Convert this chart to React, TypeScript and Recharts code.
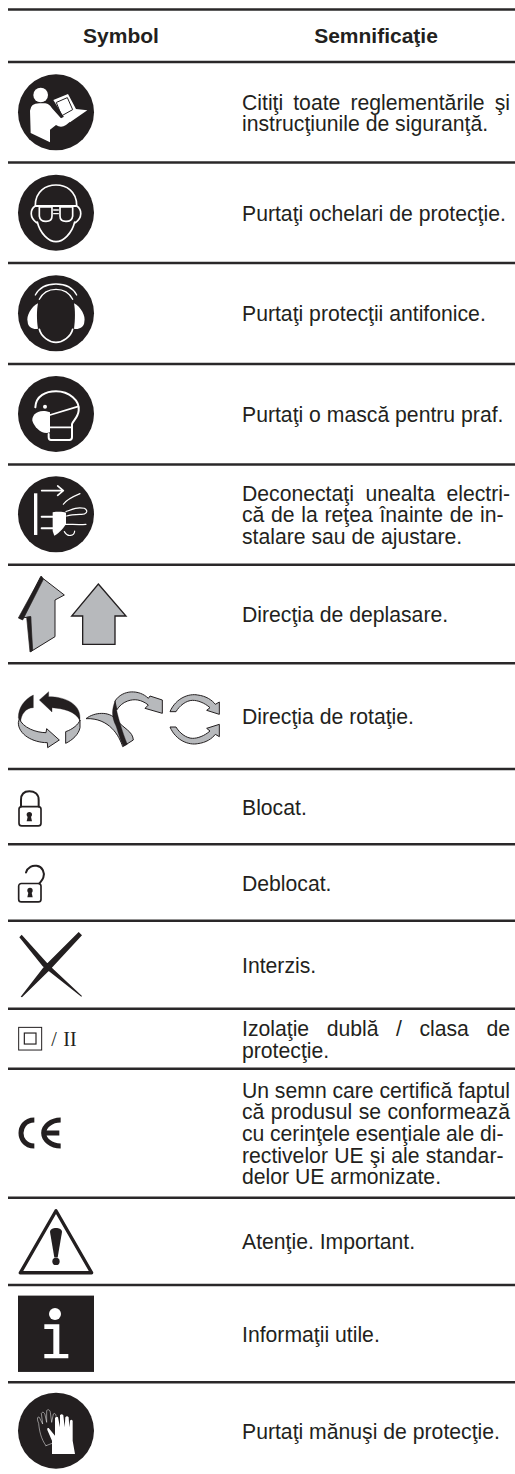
import React from "react";
import { ScatterChart, Scatter, XAxis, YAxis, ReferenceLine } from "recharts";

const WIDTH = 515;
const HEIGHT = 1474;
const INK = "#231f20";
const GREY = "#b7b9bc";
const FONT = '"Liberation Sans", Arial, sans-serif';
const FONT_SIZE = 21.2;
const LINE_HEIGHT = 21.6;

const headerLabels = ["Symbol", "Semnificaţie"];
const headerColumns = [121, 376];
const headerBaseline = 42.7;

const ruleValues = [9.5, 62, 162.5, 263, 364, 464.5, 564.7, 663.3, 769, 844.3, 920.7, 1008.7, 1068.7, 1197.7, 1285, 1382.3];
const rowCentres = [112.3, 212.7, 313.3, 414, 514.3, 614, 716, 806.6, 882.5, 964.7, 1038.7, 1133, 1241.4, 1333.6, 1430.7];

const iconNames = ["read", "goggles", "earmuffs", "mask", "unplug", "arrows", "rotation", "locked", "unlocked", "cross", "insulation", "ce", "warning", "info", "gloves"];

const rowTexts = [
  ["Citiţi toate reglementările şi", "instrucţiunile de siguranţă."],
  ["Purtaţi ochelari de protecţie."],
  ["Purtaţi protecţii antifonice."],
  ["Purtaţi o mască pentru praf."],
  ["Deconectaţi unealta electri-", "că de la reţea înainte de in-", "stalare sau de ajustare."],
  ["Direcţia de deplasare."],
  ["Direcţia de rotaţie."],
  ["Blocat."],
  ["Deblocat."],
  ["Interzis."],
  ["Izolaţie dublă / clasa de", "protecţie."],
  ["Un semn care certifică faptul", "că produsul se conformează", "cu cerinţele esenţiale ale di-", "rectivelor UE şi ale standar-", "delor UE armonizate."],
  ["Atenţie. Important."],
  ["Informaţii utile."],
  ["Purtaţi mănuşi de protecţie."],
];

const justifiedWidths: Record<string, number> = {
  "Citiţi toate reglementările şi": 268,
  "Deconectaţi unealta electri-": 268,
  "că de la reţea înainte de in-": 261.5,
  "Izolaţie dublă / clasa de": 268,
  "Un semn care certifică faptul": 268,
  "că produsul se conformează": 268,
  "cu cerinţele esenţiale ale di-": 261.5,
  "rectivelor UE şi ale standar-": 261.5,
};

let measureCtx: CanvasRenderingContext2D | null = null;
function wordGap(line: string): number {
  const target = justifiedWidths[line];
  if (!target) return 0;
  if (!measureCtx) measureCtx = document.createElement("canvas").getContext("2d");
  if (!measureCtx) return 0;
  measureCtx.font = `${FONT_SIZE}px "Liberation Sans"`;
  const spaces = line.split(" ").length - 1;
  return (target - measureCtx.measureText(line).width) / spaces;
}

const W = "#ffffff";
const disc = <circle r={114} fill={INK} />;
const line = (color: string, w: number) => ({ fill: "none", stroke: color, strokeWidth: w, strokeLinecap: "round" as const, strokeLinejoin: "round" as const });

const icons: Record<string, React.ReactNode> = {
  read: (
    <g>
      {disc}
      <circle cx={-46} cy={-52} r={22} fill={W} />
      <path d="M-78,-5 Q-76,-27 -50,-27 L-32,-27 Q-20,-25 -12,-12 L15,18 L35,8 L55,18 L30,38 Q15,48 0,38 L-18,52 L-18,90 L-76,62 Z" fill={W} />
      <path d="M-8,-37 L36,-55 L60,-10 L94,-6 L42,30 L22,12 Z" fill={W} />
      <path d="M2,-30 L34,-44 L50,-8 L18,10 Z" {...line(INK, 3)} />
    </g>
  ),
  goggles: (
    <g>
      {disc}
      <path d="M-62,-22 C-62,-65 -30,-83 0,-83 C30,-83 62,-65 62,-22 M-56,28 C-48,62 -22,87 0,87 C22,87 48,62 56,28" {...line(W, 5)} />
      <path d="M-62,-20 C-78,-10 -80,15 -58,30 M62,-20 C78,-10 80,15 58,30" {...line(W, 5)} />
      <path d="M-60,-20 H60" {...line(W, 6)} />
      <path d="M-50,-17 H-12 V10 Q-12,26 -30,26 Q-48,26 -50,10 Z M12,-17 H50 V10 Q48,26 30,26 Q12,26 12,10 Z" fill={INK} stroke={W} strokeWidth={5} />
      <path d="M-7,-8 H7 M-7,3 H7" {...line(W, 4)} />
    </g>
  ),
  earmuffs: (
    <g>
      {disc}
      <path d="M-62,-55 C-50,-78 -25,-88 0,-88 C25,-88 50,-78 62,-55 M-50,-42 C-40,-62 -20,-72 0,-72 C20,-72 40,-62 50,-42" {...line(W, 4)} />
      <path d="M-54,-30 C-75,-20 -90,10 -85,25 C-85,42 -65,50 -54,46 C-58,20 -58,-10 -54,-30 Z" fill={W} />
      <path d="M54,-30 C75,-20 90,10 85,25 C85,42 65,50 54,46 C58,20 58,-10 54,-30 Z" fill={W} />
      <path d="M-50,48 C-45,70 -20,87 0,87 C20,87 45,70 50,48" {...line(W, 5)} />
    </g>
  ),
  mask: (
    <g>
      {disc}
      <path d="M-62,-20 C-60,-55 -30,-68 0,-68 C40,-68 72,-40 68,-10 C66,10 52,20 48,30 L48,70 Q48,78 40,78 L-15,78 Q-22,78 -22,70 L-22,60" {...line(W, 6)} />
      <path d="M-18,-5 L-18,55 C-40,65 -65,40 -71,20 C-73,5 -55,-18 -18,-5 Z" fill={W} />
      <path d="M-18,3 L65,-22 M-18,40 H48" {...line(W, 5)} />
      <circle cx={-33} cy={-22} r={6} fill={W} />
    </g>
  ),
  unplug: (
    <g>
      {disc}
      <rect x={-66} y={-63} width={10} height={125} fill={W} />
      <path d="M-43,-71 H20 M5,-85 L22,-71 L5,-57" {...line(W, 5)} />
      <path d="M-43,7 H-8 M-43,42 H-8" {...line(W, 6)} />
      <path d="M-10,-6 C5,-8 20,-8 30,-5 L30,30 C20,45 5,60 -5,64 L-10,50 Z" fill={W} />
      <path d="M22,-30 C32,-45 55,-55 72,-62 M30,-8 C50,-16 62,-22 85,-18 C100,-10 90,2 72,0 C60,0 45,0 32,5 M30,30 C50,30 70,32 90,30 M25,52 C35,70 55,65 56,50" {...line(W, 3.5)} />
    </g>
  ),
  arrows: (
    <g>
      <path d="M-46,-112 L25,-57 L-3,-42 L-3,68 L-76,113 L-76,8 L-108,13 Z" fill={GREY} stroke={INK} strokeWidth={3} strokeLinejoin="round" />
      <path d="M-44,-114 L-113,12 L-100,18 L-38,-104 Z M-88,10 L-76,8 L-70,108 L-78,114 Z" fill={INK} stroke={INK} strokeWidth={2} />
      <path d="M127,-90 L210,6 L177,6 L177,91 L80,91 L80,6 L47,6 Z" fill={GREY} stroke={INK} strokeWidth={4} strokeLinejoin="miter" />
    </g>
  ),
  rotation: (
    <g stroke={INK} strokeLinejoin="round">
      <path d="M-68,-63 C-95,-50 -113,-25 -113,5 L-106,20 C-106,-5 -90,-25 -68,-25 Z" fill={INK} />
      <path d="M-110,8 C-100,35 -60,50 -30,50 L-28,38 L10,72 L-25,95 L-26,80 C-70,80 -113,55 -113,20 Z" fill={GREY} strokeWidth={3} />
      <path d="M-50,-48 L-22,-73 L-22,-58 C30,-58 72,-35 72,5 L72,15 C60,-15 20,-22 -12,-25 L-12,-12 Z" fill={INK} />
      <path d="M29,82 L29,47 C50,40 68,25 72,12 L72,35 C68,55 50,72 29,82 Z" fill={GREY} strokeWidth={3} />
      <path d="M90,8 C115,-12 160,-15 180,10 C205,40 230,45 232,72 L200,92 C190,60 160,5 90,8 Z" fill={GREY} strokeWidth={3} />
      <path d="M177,-45 C200,-80 250,-80 277,-53 L282,-60 L319,-48 L319,-8 L267,-23 L277,-33 C255,-50 235,-52 215,-45 C200,-40 190,-30 182,-18 Z" fill={GREY} strokeWidth={3} />
      <path d="M177,-45 C168,-20 165,0 180,30 C190,60 195,80 203,91 L214,85 C200,50 185,0 182,-18 Z" fill={INK} />
      <path d="M342,-13 C360,-55 400,-68 425,-63 C450,-60 468,-48 478,-35 L490,-42 L490,-5 L452,-17 L462,-25 C445,-40 425,-47 410,-47 C390,-47 370,-30 360,-13 Z" fill={GREY} strokeWidth={3} />
      <path d="M342,33 C360,75 400,88 425,83 C450,80 468,68 478,55 L490,62 L490,25 L452,37 L462,45 C445,60 425,67 410,67 C390,67 370,50 360,33 Z" fill={GREY} strokeWidth={3} />
    </g>
  ),
  locked: (
    <g>
      <path d="M-105,0 V-20 C-105,-40 -92,-46 -80,-46 C-65,-46 -52,-38 -52,-20 V0" {...line(INK, 6)} />
      <rect x={-111} y={0} width={66} height={58} rx={8} fill="none" stroke={INK} strokeWidth={5} />
      <circle cx={-80} cy={24} r={8} fill={INK} />
      <path d="M-84,26 L-88,44 H-72 L-76,26 Z" fill={INK} />
    </g>
  ),
  unlocked: (
    <g>
      <path d="M-90,-30 C-85,-47 -70,-52 -58,-50 C-40,-47 -33,-30 -38,-15 C-40,-8 -45,-3 -50,3" {...line(INK, 6)} />
      <rect x={-112} y={3} width={67} height={55} rx={8} fill="none" stroke={INK} strokeWidth={5} />
      <circle cx={-78} cy={24} r={8} fill={INK} />
      <path d="M-82,26 L-86,44 H-70 L-74,26 Z" fill={INK} />
    </g>
  ),
  cross: (
    <path d="M-110,-82 L-103,-90 L-22,0 L78,94 L76,96 L-40,5 Z M68,-98 L78,-88 L-18,15 L-102,98 L-106,96 L-35,5 Z" fill={INK} />
  ),
  insulation: (
    <g fill="none" stroke={INK}>
      <rect x={-112} y={-34} width={69} height={68} strokeWidth={3} />
      <rect x={-95} y={-17} width={35} height={33} strokeWidth={3.5} />
      <text x={-14} y={22} fontFamily='"Liberation Serif", serif' fontSize={60} stroke="none" fill={INK}>/</text>
      <text x={22} y={22} fontFamily='"Liberation Serif", serif' fontSize={60} stroke="none" fill={INK}>II</text>
    </g>
  ),
  ce: (
    <path d="M-65,-39 C-95,-39 -105,-15 -105,0 C-105,15 -95,39 -65,39 M14,-39 C-15,-39 -37,-20 -37,0 C-37,20 -15,39 14,39 M-32,0 H10" fill="none" stroke={INK} strokeWidth={15} />
  ),
  warning: (
    <g>
      <path d="M0,-92 L-107,94 H107 Z" fill="none" stroke={INK} strokeWidth={10} strokeLinejoin="round" />
      <path d="M-18,-28 C-18,-44 18,-44 18,-28 L5,48 L-5,48 Z" fill={INK} />
      <circle cx={0} cy={60} r={11} fill={INK} />
    </g>
  ),
  info: (
    <g>
      <rect x={-114} y={-114} width={228} height={229} fill={INK} />
      <circle cx={-3} cy={-59} r={18} fill={W} />
      <path d="M-35,-28 L10,-28 L10,61 L37,61 L37,74 L-35,74 L-35,61 L-8,61 L-8,-14 L-35,-14 Z" fill={W} />
    </g>
  ),
  gloves: (
    <g>
      {disc}
      <path d="M-30,45 C-45,25 -50,0 -52,-22 C-58,-35 -56,-44 -50,-40 L-40,-20 L-44,-52 C-40,-58 -35,-55 -33,-48 L-28,-25 L-28,-60 C-24,-66 -18,-62 -17,-55 L-13,-25 L-8,-50 C-4,-54 0,-50 0,-44 M-30,45 L-12,38" {...line(W, 1.5)} />
      <path d="M-12,70 L57,70 L50,30 L50,-30 Q46,-36 42,-30 L40,-10 L38,-40 Q33,-46 28,-40 L26,-10 L22,-46 Q17,-52 12,-46 L12,-10 L6,-40 Q2,-44 -3,-38 L-3,15 L-22,-8 Q-28,-10 -26,-2 L-12,30 Z" fill={W} />
    </g>
  ),
};

const iconPoints = rowCentres.map((y, i) => ({ x: 56, y, name: iconNames[i] }));
const textPoints = rowCentres.map((y, i) => ({ x: 242, y, lines: rowTexts[i] }));
const headerPoints = headerLabels.map((label, i) => ({ x: headerColumns[i], y: headerBaseline, label }));

const IconShape = (props: any) => (
  <g transform={`translate(${props.cx},${props.cy}) scale(${1 / 3})`}>{icons[props.payload.name]}</g>
);

const TextShape = (props: any) => {
  const lines: string[] = props.payload.lines;
  const first = props.cy + 8 - ((lines.length - 1) * LINE_HEIGHT) / 2;
  return (
    <g>
      {lines.map((t, i) => (
        <text
          key={t}
          x={props.cx}
          y={first + i * LINE_HEIGHT}
          fontFamily={FONT}
          fontSize={FONT_SIZE}
          fill={INK}
          style={{ wordSpacing: `${wordGap(t)}px` }}
        >
          {t}
        </text>
      ))}
    </g>
  );
};

const HeaderShape = (props: any) => (
  <text x={props.cx} y={props.cy} textAnchor="middle" fontFamily={FONT} fontSize={21} fontWeight="bold" fill={INK}>
    {props.payload.label}
  </text>
);

export default function App() {
  return (
    <div style={{ position: "absolute", left: 0, top: 0, width: WIDTH, height: HEIGHT, background: "#fff" }}>
      <ScatterChart width={WIDTH} height={HEIGHT} margin={{ top: 0, right: 0, bottom: 0, left: 0 }}>
        <XAxis type="number" dataKey="x" domain={[0, WIDTH]} hide />
        <YAxis type="number" dataKey="y" domain={[0, HEIGHT]} reversed hide />
        {ruleValues.map((y) => (
          <ReferenceLine key={y} segment={[{ x: 8, y }, { x: WIDTH, y }]} stroke="#2a2829" strokeWidth={2.6} ifOverflow="visible" />
        ))}
        <Scatter data={headerPoints} shape={HeaderShape} isAnimationActive={false} />
        <Scatter data={iconPoints} shape={IconShape} isAnimationActive={false} />
        <Scatter data={textPoints} shape={TextShape} isAnimationActive={false} />
      </ScatterChart>
    </div>
  );
}
